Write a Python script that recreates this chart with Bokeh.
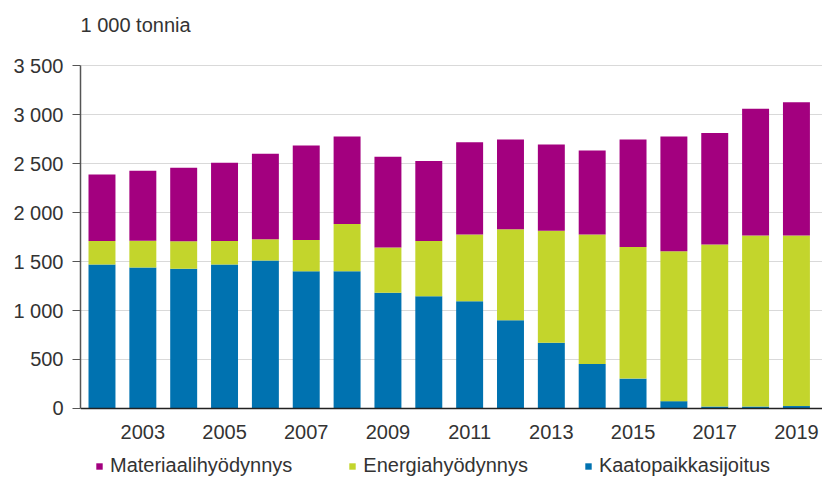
from bokeh.plotting import figure
from bokeh.models import FixedTicker, Label, Legend, LegendItem, Range1d
from bokeh.embed import file_html
from bokeh.resources import INLINE

years = list(range(2002, 2020))
kaatopaikkasijoitus = [1470, 1440, 1425, 1470, 1510, 1400, 1400, 1180, 1145, 1095,
                       900, 670, 455, 305, 75, 20, 20, 25]
energiahyodynnys = [238, 272, 282, 238, 218, 320, 483, 462, 564, 681,
                    929, 1143, 1320, 1343, 1530, 1653, 1745, 1740]
materiaalihyodynnys = [681, 715, 749, 800, 871, 963, 892, 926, 817, 942,
                       915, 880, 857, 1096, 1171, 1137, 1293, 1361]

x_ticks = [2003, 2005, 2007, 2009, 2011, 2013, 2015, 2017, 2019]
y_ticks = [0, 500, 1000, 1500, 2000, 2500, 3000, 3500]
y_tick_labels = ["0", "500", "1 000", "1 500", "2 000", "2 500", "3 000", "3 500"]
series_names = ["Kaatopaikkasijoitus", "Energiahyödynnys", "Materiaalihyödynnys"]
unit_label = "1 000 tonnia"

colors = ["#0072B0", "#C3D52C", "#A3007F"]
FONT = "Liberation Sans"
TEXT_COLOR = "#333333"
FS = "20px"

data = dict(year=years, k=kaatopaikkasijoitus, e=energiahyodynnys, m=materiaalihyodynnys)

# frame spans the full canvas height; value axis 0..3500 occupies pixels 65..408
x_start = 2001.474
x_end = 2019.638
y_start = -704.1
y_end = 4163.3

p = figure(width=822, height=477, output_backend="svg", toolbar_location=None,
           x_range=Range1d(x_start, x_end), y_range=Range1d(y_start, y_end),
           min_border_left=80, min_border_right=0, min_border_top=0, min_border_bottom=0)
p.outline_line_color = None
p.background_fill_color = "white"

renderers = p.vbar_stack(["k", "e", "m"], x="year", width=0.66, color=colors,
                         line_color=None, source=data)

# axes
p.xaxis.fixed_location = 0
p.xaxis.ticker = FixedTicker(ticks=x_ticks)
p.xaxis.major_tick_line_color = None
p.xaxis.minor_tick_line_color = None
p.xaxis.major_tick_out = 0
p.xaxis.major_tick_in = 0
p.xaxis.axis_line_color = "#222222"
p.xaxis.axis_line_width = 1.5
p.xaxis.major_label_standoff = 17
p.xaxis.major_label_text_font = FONT
p.xaxis.major_label_text_font_size = FS
p.xaxis.major_label_text_color = TEXT_COLOR

p.yaxis.bounds = (y_ticks[0], y_ticks[-1])
p.yaxis.ticker = FixedTicker(ticks=y_ticks)
p.yaxis.major_label_overrides = {t: l for t, l in zip(y_ticks, y_tick_labels)}
p.yaxis.minor_tick_line_color = None
p.yaxis.major_tick_in = 0
p.yaxis.major_tick_out = 8
p.yaxis.major_tick_line_color = "#555555"
p.yaxis.axis_line_color = "#555555"
p.yaxis.axis_line_width = 1.5
p.yaxis.major_label_standoff = 9
p.yaxis.major_label_text_font = FONT
p.yaxis.major_label_text_font_size = FS
p.yaxis.major_label_text_color = TEXT_COLOR

p.xgrid.grid_line_color = None
p.ygrid.grid_line_color = "#d9d9d9"

# unit label above the value axis
p.add_layout(Label(x=x_start, y=y_ticks[-1], x_units="data", y_units="data", y_offset=41,
                   text=unit_label, text_font=FONT, text_font_size=FS,
                   text_color=TEXT_COLOR, text_baseline="middle", text_align="left"))

legend = Legend(items=[LegendItem(label=series_names[2], renderers=[renderers[2]]),
                       LegendItem(label=series_names[1], renderers=[renderers[1]]),
                       LegendItem(label=series_names[0], renderers=[renderers[0]])],
                orientation="horizontal", location=(15, 0), padding=0, margin=0,
                spacing=56, glyph_width=8, glyph_height=8,
                label_standoff=7, label_text_font=FONT, label_text_font_size=FS,
                label_text_color=TEXT_COLOR, border_line_color=None,
                background_fill_alpha=0)
p.add_layout(legend)

open("out.html", "w").write(file_html(p, INLINE))
